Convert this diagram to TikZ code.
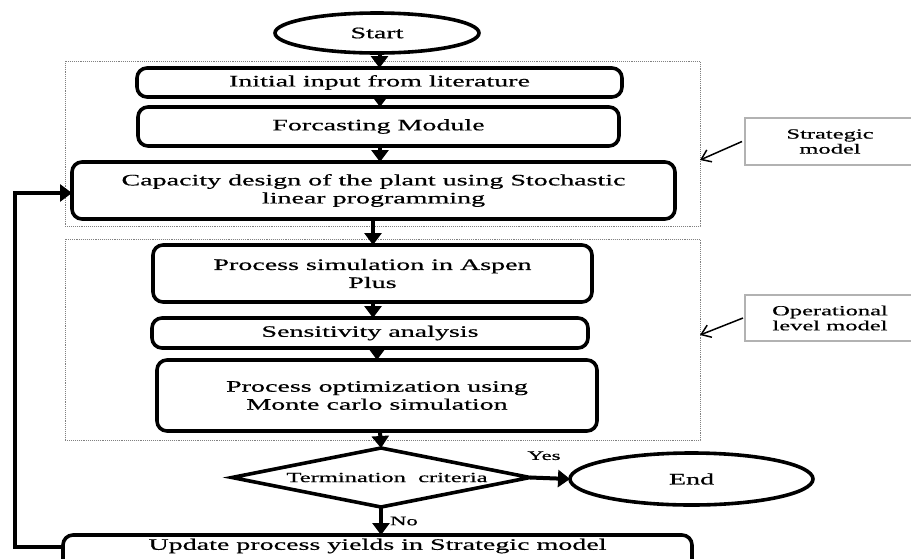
\documentclass[tikz,border=0pt]{standalone}
\usepackage{fontspec}
\setmainfont{Liberation Serif}[FakeStretch=1.75,FakeBold=0.6]
\usetikzlibrary{shapes.geometric,arrows.meta}
\begin{document}
\begin{tikzpicture}[x=1pt,y=-1pt,
  every node/.style={inner sep=0pt,outer sep=0pt,font=\fontsize{16}{18}\selectfont},
  proc/.style={draw,line width=3.6pt,rounded corners=10pt,align=center},
  term/.style={draw,ellipse,line width=3.6pt},
  dec/.style={draw,diamond,line width=3.6pt},
  flow/.style={line width=4pt,-{Triangle[length=12pt,width=17pt]}},
  grp/.style={draw=gray,densely dotted,line width=0.9pt},
  lbl/.style={draw=gray!60,line width=1.4pt,align=center,font=\fontsize{14}{15}\selectfont},
  small/.style={font=\fontsize{13}{14}\selectfont},
  note/.style={line width=1.5pt,-{Straight Barb[length=9pt,width=13pt]}}]
\useasboundingbox (0,0) rectangle (911,558);
\begin{scope}
\clip (0,0) rectangle (911,558);
% group boxes
\draw[grp] (65,61) rectangle (700,226);
\draw[grp] (65,239) rectangle (700,440);
\node[lbl,minimum width=170pt,minimum height=47pt] (lab1) at (830,141.5) {Strategic\\model};
\node[lbl,minimum width=170pt,minimum height=46pt] (lab2) at (830,318) {Operational\\level model};
\coordinate (g1) at (700,160);
\coordinate (g2) at (700,335);
\draw[note] (lab1.west) ++(-3,0) coordinate (l1s) -- (g1);
\draw[note] (lab2.west) ++(-2,0) coordinate (l2s) -- (g2);
% nodes
\node[term,minimum width=204pt,minimum height=40pt] (start) at (377,33) {Start};
\node[proc,minimum width=485pt,minimum height=29pt] (init) at (379.5,82.5) {Initial input from literature};
\node[proc,minimum width=481pt,minimum height=39pt] (fore) at (378.5,126.5) {Forcasting Module};
\node[proc,minimum width=603pt,minimum height=57pt] (cap) at (373.5,190.5) {Capacity design of the plant using Stochastic\\linear programming};
\node[proc,minimum width=439pt,minimum height=57pt] (sim) at (372.5,273.5) {Process simulation in Aspen\\Plus};
\node[proc,minimum width=436pt,minimum height=30pt] (sens) at (370,333) {Sensitivity analysis};
\node[proc,minimum width=440pt,minimum height=71pt] (opt) at (377,395.5) {Process optimization using\\Monte carlo simulation};
\node[dec,minimum width=298pt,minimum height=59pt] (term) at (381,477.5) {};
\node[font=\fontsize{14}{16}\selectfont] (termtxt) at (387,477.5) {Termination\ \ criteria};
\node[term,minimum width=243pt,minimum height=52pt] (end) at (691.5,479) {End};
\node[proc,minimum width=629pt,minimum height=40pt] (upd) at (377.5,555) {};
\node (updtxt) at (377.5,546) {Update process yields in Strategic model};
% flow
\draw[flow] (start.south -| init.north) -- (init.north);
\draw[flow] (init.south -| 380,0) -- (380,107);
\draw[flow] (fore.south -| 380,0) -- (380,162);
\draw[flow] (cap.south -| 373,0) -- (373,245);
\draw[flow] (sim.south -| 373,0) -- (373,318);
\draw[flow] (sens.south -| 377,0) -- (377,360);
\draw[flow] (opt.south -| 380,0) -- (term.north);
\draw[flow] (term.east) -- (end.west) node[pos=0.35,above=18pt,small] (yes) {Yes};
\draw[flow] (term.south) -- (term.south |- upd.north) node[midway,right=9pt,small] (no) {No};
\coordinate (fb) at (15,193);
\draw[flow] (upd.west |- 0,547) -| (fb) -- (cap.west |- fb);
\end{scope}
\end{tikzpicture}
\end{document}
